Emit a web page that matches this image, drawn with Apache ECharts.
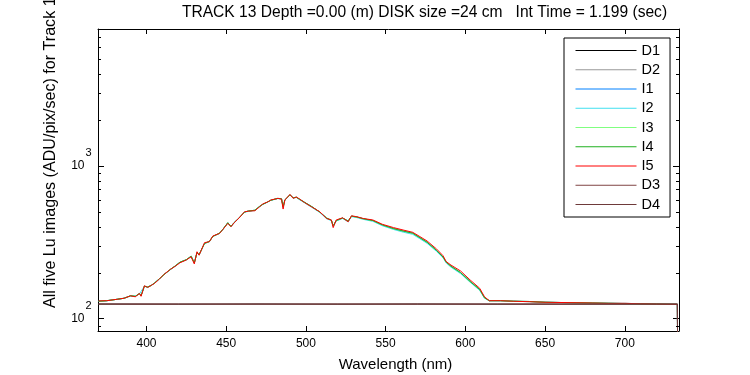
<!DOCTYPE html>
<html><head><meta charset="utf-8">
<script src="https://cdn.jsdelivr.net/npm/echarts@6/dist/echarts.min.js"></script>
<style>html,body{margin:0;padding:0;background:#fff}#c{width:750px;height:375px}</style>
</head><body><div id="c"></div>
<script>
// ---- data ----
const seriesNames = ['D1','D2','I1','I2','I3','I4','I5','D3','D4'];
const xTickValues = [400,450,500,550,600,650,700];
const yMinorTickValues = [90,200,300,400,500,600,700,800,900,2000,3000,4000,5000,6000,7000];

const iNm = [370,375,382,386,390,393,395.6,396.6,398.7,400.8,403,405,408,411,415,418,421,425,428,430,431.7,433,436.4,439.5,441.6,445.8,448,451,453,455,458,461.5,464,468,471,473,476,478,482.4,484.7,485.7,486.8,488,490,492,494,496,499,503.5,508.7,513,516,517.1,519,523,526.5,528.6,532,536,542,548,555,561,567,571.5,576,582,586,588,591,597,603,609,612,615,622,630,640,650,660,670,680,690,700,710,720,733,733.2];
const i5Vals = [130.6,131,134,136,141,139,146,140,164,160,165,170,181,195,210,220,232,242,254,228,274,260,314,319,347,361,384,420,399,424,455,500,505,508,540,563,580,597,612,606,521,597,610,650,612,625,606,576,539,500,452,442,394,442,457,430,471,464,452,442,414,394,380,367,344,322,285,258,236,224,205,179,158,139,131,131,130,129,128,127.5,127,126.5,126,126,125,124.5,124,40];
const i4Vals = [130,131,134,136,141,140,146,141,163,161,165,171,182,194,210,221,234,243,256,232,270,262,310,320,345,362,385,424,402,425,455,498,506,512,543,560,580,595,612,608,540,598,612,645,618,622,604,578,542,498,455,440,405,438,455,435,468,462,450,438,410,388,374,362,338,316,279,253,234,220,200,175,155,137,131,131,130,129.5,128,127.5,127,126.5,126,125.5,125,124.5,124,40];
const i2Vals = [130,131,134,136,141,140,145,141,163,160,165,170,181,195,209,220,233,242,255,230,272,261,312,318,346,360,383,421,400,423,454,497,503,510,540,558,578,594,610,605,530,595,608,643,615,620,600,573,536,495,450,437,400,435,452,430,465,458,446,433,405,383,368,356,333,311,275,250,231,217,197,173,153,136,131,131,130,129,128,127.5,127,126.5,126,126,125,124.5,124,40];
const i1Vals = i4Vals;
const i3Vals = i4Vals;

const dNm = [370,420,470,520,570,620,670,720,733,733.2];
const d1Vals = [124.5,124,124.5,124,124.5,124,124,124,124,40];
const d2Vals = [124.5,124.5,124,124.5,124,124.5,124,124,124,40];
const d3Vals = [124.5,124.5,124.5,124.5,124.5,124.5,124.5,124.5,124.5,40];
const d4Vals = [124.5,124.5,124.5,124.5,124.5,124.5,124.5,124.5,124.5,40];

// ---- styling / layout ----
const FONT = '"Liberation Sans", Arial, sans-serif';
const X_MIN = 369.6, X_MAX = 734;
const Y_MIN = 83, Y_MAX = 7850;
const colors = {D1:'#000000',D2:'#999999',I1:'#0080ff',I2:'#40e0f0',I3:'#80ff80',I4:'#20b020',I5:'#ff0000',D3:'#804444',D4:'#6e3a3a'};

function pairs(xs, ys){ return xs.map((x,i)=>[x, ys[i]]); }
const seriesData = {
  D1: pairs(dNm, d1Vals), D2: pairs(dNm, d2Vals),
  I1: pairs(iNm, i1Vals), I2: pairs(iNm, i2Vals), I3: pairs(iNm, i3Vals),
  I4: pairs(iNm, i4Vals), I5: pairs(iNm, i5Vals),
  D3: pairs(dNm, d3Vals), D4: pairs(dNm, d4Vals)
};

const lineSeries = seriesNames.map(n => ({
  name: n, type: 'line', xAxisIndex: 0, yAxisIndex: 0,
  data: seriesData[n], symbol: 'none', showSymbol: false,
  lineStyle: {color: colors[n], width: 1}, itemStyle: {color: colors[n]},
  emphasis: {disabled: true}, animation: false, clip: true
}));

const minorTicks = {
  type: 'custom', coordinateSystem: 'cartesian2d', xAxisIndex: 0, yAxisIndex: 0,
  silent: true, clip: false, animation: false, z: 10,
  data: yMinorTickValues.map(v => [X_MIN, v]),
  renderItem: function(params, api){
    const v = api.value(1);
    const pl = api.coord([X_MIN, v]);
    const pr = api.coord([X_MAX, v]);
    const y = Math.round(pl[1]) + 0.5;
    return {type:'group', children:[
      {type:'line', shape:{x1:Math.round(pl[0]), y1:y, x2:Math.round(pl[0])+3, y2:y}, style:{stroke:'#000', lineWidth:1}},
      {type:'line', shape:{x1:Math.round(pr[0])-3, y1:y, x2:Math.round(pr[0]), y2:y}, style:{stroke:'#000', lineWidth:1}}
    ]};
  }
};

const chart = echarts.init(document.getElementById('c'), null, {renderer:'canvas'});
chart.setOption({
  animation: false,
  backgroundColor: '#fff',
  textStyle: {fontFamily: FONT},
  grid: {left: 98, top: 29, right: 71, bottom: 44, containLabel: false},
  xAxis: [
    {type:'value', position:'bottom', min:X_MIN, max:X_MAX,
     axisLine:{show:true, lineStyle:{color:'#000', width:1}},
     axisTick:{show:true, inside:true, length:5, lineStyle:{color:'#000'}, customValues: xTickValues},
     axisLabel:{show:true, color:'#000', fontSize:12, fontFamily:FONT, margin:7, customValues: xTickValues},
     splitLine:{show:false}},
    {type:'value', position:'top', min:X_MIN, max:X_MAX,
     axisLine:{show:true, lineStyle:{color:'#000', width:1}},
     axisTick:{show:true, inside:true, length:5, lineStyle:{color:'#000'}, customValues: xTickValues},
     axisLabel:{show:false}, splitLine:{show:false}}
  ],
  yAxis: [
    {type:'log', logBase:10, position:'left', min:Y_MIN, max:Y_MAX,
     axisLine:{show:true, lineStyle:{color:'#000', width:1}},
     axisTick:{show:true, inside:true, length:6, lineStyle:{color:'#000'}},
     axisLabel:{show:true, color:'#000', margin:6.5, fontFamily:FONT, showMinLabel:false, showMaxLabel:false,
       formatter: function(v){ const e = Math.round(Math.log10(v)); return '{s|' + e + '}\n{b|10}{sp| }\n{e| }'; },
       rich:{ s:{fontSize:11, lineHeight:13, fontFamily:FONT, color:'#000'},
              b:{fontSize:12, lineHeight:13, fontFamily:FONT, color:'#000'},
              sp:{fontSize:12, lineHeight:13, width:7},
              e:{fontSize:12, lineHeight:13} }},
     splitLine:{show:false}, minorTick:{show:false}},
    {type:'log', logBase:10, position:'right', min:Y_MIN, max:Y_MAX,
     axisLine:{show:true, lineStyle:{color:'#000', width:1}},
     axisTick:{show:true, inside:true, length:6, lineStyle:{color:'#000'}},
     axisLabel:{show:false}, splitLine:{show:false}}
  ],
  legend: {
    show: true, orient: 'vertical', left: 564, top: 38,
    data: seriesNames, itemWidth: 61, itemHeight: 15, itemGap: 4.25,
    itemStyle: {color: 'rgba(0,0,0,0)', borderWidth: 0, opacity: 0},
    lineStyle: {width: 1},
    padding: [5, 10, 5, 11],
    backgroundColor: '#fff', borderColor: '#000', borderWidth: 1, borderRadius: 0,
    textStyle: {color:'#000', fontSize:14.5, fontFamily:FONT},
    selectedMode: false
  },
  graphic: [
    {type:'text', x: 424.5, y: 13, silent:true,
     style:{text:'TRACK 13 Depth =0.00 (m) DISK size =24 cm   Int Time = 1.199 (sec)', font:'15.6px ' + FONT, fill:'#000', align:'center', verticalAlign:'middle', textAlign:'center', textVerticalAlign:'middle'}},
    {type:'text', x: 395.5, y: 364.5, silent:true,
     style:{text:'Wavelength (nm)', font:'15px ' + FONT, fill:'#000', align:'center', verticalAlign:'middle', textAlign:'center', textVerticalAlign:'middle'}},
    {type:'text', x: 50.5, y: 308, rotation: Math.PI/2, silent:true,
     style:{text:'All five Lu images (ADU/pix/sec) for Track 13', font:'16.1px ' + FONT, fill:'#000', align:'left', verticalAlign:'middle', textAlign:'left', textVerticalAlign:'middle'}}
  ],
  series: lineSeries.concat([minorTicks])
});
</script>
</body></html>
